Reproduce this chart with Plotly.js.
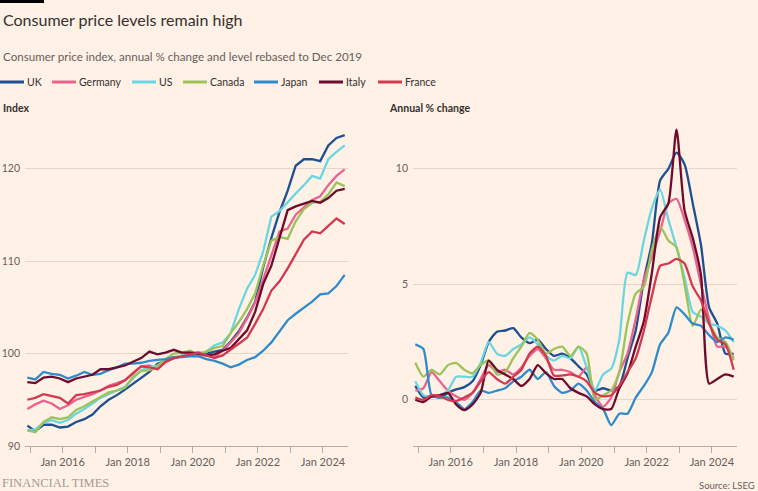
<!DOCTYPE html>
<html>
<head>
<meta charset="utf-8">
<script src="https://cdn.plot.ly/plotly-3.0.1.min.js"></script>
<style>
html,body{margin:0;padding:0;background:#fff1e5;}
#chart{width:758px;height:491px;}
</style>
</head>
<body>
<div id="chart"></div>
<script>
// Quarterly observation dates
const dates = ['2014-12-01','2015-03-01','2015-06-01','2015-09-01','2015-12-01','2016-03-01','2016-06-01','2016-09-01','2016-12-01','2017-03-01',
'2017-06-01','2017-09-01','2017-12-01','2018-03-01','2018-06-01','2018-09-01','2018-12-01','2019-03-01','2019-06-01','2019-09-01',
'2019-12-01','2020-03-01','2020-06-01','2020-09-01','2020-12-01','2021-03-01','2021-06-01','2021-09-01','2021-12-01','2022-03-01',
'2022-06-01','2022-09-01','2022-12-01','2023-03-01','2023-06-01','2023-09-01','2023-12-01','2024-03-01','2024-06-01','2024-09-01'];

const countries = ['UK','Germany','US','Canada','Japan','Italy','France'];
const colors = ['#1d4f91','#e8648f','#6ad6e2','#9bc35a','#2f8bcb','#6e0a2c','#d2384f'];

// Index level, Dec 2019 = 100
const idxUK      = [92.2,91.6,92.3,92.3,92.0,92.1,92.6,92.9,93.4,94.3,95.0,95.5,96.1,96.7,97.4,98.0,98.9,99.2,99.5,99.7,100.0,100.1,100.0,100.2,100.4,101.3,102.4,103.9,105.6,109.3,112.5,115.3,117.6,120.3,121.0,121.0,120.8,122.5,123.3,123.6];
const idxGermany = [94.0,94.5,94.9,94.6,94.0,94.4,95.0,95.3,95.6,96.0,96.5,96.8,97.1,97.9,98.6,98.7,98.3,99.1,99.5,99.7,99.9,99.8,99.8,99.6,100.3,101.2,102.2,103.8,105.5,108.0,110.5,113.2,113.5,115.0,115.8,116.6,117.0,118.2,119.2,119.9];
const idxUS      = [91.7,91.8,92.5,92.8,92.5,92.8,93.5,94.0,94.6,95.2,95.6,96.0,96.4,97.3,98.2,98.5,98.7,99.3,99.6,99.8,100.0,99.9,100.2,100.9,101.2,102.2,104.8,107.0,108.5,111.0,114.8,115.4,116.4,117.3,118.2,119.2,118.9,121.0,121.8,122.5];
const idxCanada  = [91.7,91.5,92.6,93.1,92.9,93.1,93.9,94.3,94.8,95.3,95.8,96.0,96.3,97.5,98.1,98.2,98.6,99.4,100.0,100.1,100.3,99.9,100.2,100.6,100.8,102.2,103.4,104.8,106.5,109.5,112.2,112.6,112.4,114.3,115.6,116.3,116.4,117.2,118.5,118.1];
const idxJapan   = [97.4,97.2,98.0,97.8,97.7,97.3,97.6,98.0,97.7,97.8,98.2,98.5,98.9,98.9,99.0,99.2,99.3,99.4,99.6,99.6,99.7,99.7,99.4,99.2,98.9,98.5,98.8,99.3,99.6,100.3,101.2,102.4,103.6,104.3,104.9,105.6,106.4,106.5,107.3,108.5];
const idxItaly   = [96.9,96.8,97.4,97.5,97.3,96.9,97.3,97.5,97.7,98.3,98.3,98.5,98.7,99.1,99.5,100.2,99.9,100.1,100.4,100.1,100.1,100.0,99.8,99.9,100.3,100.6,101.5,102.5,104.5,107.5,109.5,112.5,115.5,115.9,116.2,116.5,116.3,116.8,117.6,117.8];
const idxFrance  = [95.0,95.2,95.6,95.4,95.2,94.6,95.5,95.6,95.8,96.0,96.4,96.6,97.1,97.8,98.6,98.5,98.3,99.1,99.5,99.7,99.9,100.1,99.8,99.5,99.8,100.4,101.0,101.7,103.2,104.8,106.8,107.8,109.2,110.8,112.3,113.2,113.0,113.8,114.6,114.0];

// Annual % change
const chgUK      = [0.6,0.1,0.15,0.1,0.3,0.45,0.55,0.8,1.5,2.5,2.95,3.0,3.1,2.7,2.45,2.6,2.2,1.9,2.0,1.8,1.45,1.1,0.4,0.5,0.4,0.6,1.8,3.0,5.2,6.8,9.5,10.0,10.7,10.2,8.5,6.7,4.0,3.3,2.0,2.0];
const chgGermany = [0.4,0.5,1.2,0.8,0.4,0.15,0.0,0.3,0.9,1.5,1.2,1.3,1.1,1.4,1.9,2.2,1.8,1.3,1.3,1.2,1.0,1.4,0.2,-0.3,0.1,1.2,2.0,3.5,5.2,6.2,7.3,8.5,8.7,7.8,6.6,5.0,3.5,2.3,2.3,1.8];
const chgUS      = [0.8,0.2,0.15,0.2,0.4,1.0,1.0,1.0,1.6,2.5,2.0,1.9,2.2,2.4,2.7,2.4,1.9,1.7,1.9,1.8,2.3,1.4,0.4,1.1,1.35,2.6,5.5,5.4,6.9,8.3,9.1,7.8,6.6,5.3,3.8,3.6,3.3,3.2,3.0,2.5];
const chgCanada  = [1.6,1.0,1.3,1.1,1.5,1.6,1.3,1.15,1.5,1.7,1.1,1.2,1.8,2.3,2.9,2.6,2.0,2.2,2.3,1.9,2.3,2.0,0.0,0.2,0.4,1.2,3.3,4.6,4.9,6.5,7.5,6.9,6.6,5.0,3.2,3.9,3.3,2.7,2.5,1.7];
const chgJapan   = [2.4,2.2,0.2,0.1,0.1,-0.1,-0.4,-0.1,0.4,0.3,0.4,0.5,0.8,1.0,1.3,0.9,1.2,0.6,0.3,0.4,0.7,0.4,-0.1,-0.4,-1.1,-0.6,-0.6,0.1,0.6,1.2,2.4,2.9,4.0,3.7,3.3,3.2,2.8,2.5,2.7,2.6];
const chgItaly   = [0.0,-0.1,0.15,0.2,0.3,-0.2,-0.45,-0.2,0.3,1.7,1.3,1.1,0.9,0.6,0.9,1.5,1.15,0.9,0.9,0.5,0.3,0.15,-0.2,-0.4,-0.4,0.5,1.15,2.3,3.4,5.5,7.9,8.5,11.7,8.2,7.0,5.4,0.7,0.9,1.1,1.0];
const chgFrance  = [0.1,0.0,0.2,0.15,0.0,-0.05,0.1,0.3,0.8,1.2,0.9,0.7,1.0,1.3,2.0,2.3,1.9,1.05,1.05,1.1,1.0,0.8,0.3,0.15,0.2,0.6,1.2,1.8,3.0,4.5,5.8,5.9,6.1,5.9,4.9,4.3,3.3,2.6,2.4,1.3];

const xTickVals = ['2015-01-01','2016-01-01','2017-01-01','2018-01-01','2019-01-01','2020-01-01','2021-01-01','2022-01-01','2023-01-01','2024-01-01'];
const xTickText = ['','Jan 2016','','Jan 2018','','Jan 2020','','Jan 2022','','Jan 2024'];
const yIdxTicks = [90,100,110,120];
const yChgTicks = [0,5,10];

const titleText = 'Consumer price levels remain high';
const subtitleText = 'Consumer price index, annual % change and level rebased to Dec 2019';
const leftLabel = 'Index';
const rightLabel = 'Annual % change';
const sourceText = 'Source: LSEG';
const brandText = 'FINANCIAL TIMES';

const idxSeries = [idxUK,idxGermany,idxUS,idxCanada,idxJapan,idxItaly,idxFrance];
const chgSeries = [chgUK,chgGermany,chgUS,chgCanada,chgJapan,chgItaly,chgFrance];

const W = 758, H = 491;
const px = x => x / W;
const py = y => 1 - y / H;

const traces = [];
countries.forEach((c, i) => {
  traces.push({x: dates, y: idxSeries[i], type: 'scatter', mode: 'lines', name: c,
    line: {color: colors[i], width: 2.3}, xaxis: 'x', yaxis: 'y', showlegend: false, hoverinfo: 'skip'});
});
countries.forEach((c, i) => {
  traces.push({x: dates, y: chgSeries[i], type: 'scatter', mode: 'lines', name: c,
    line: {color: colors[i], width: 2.3, shape: 'spline', smoothing: 0.6}, xaxis: 'x2', yaxis: 'y2', showlegend: false, hoverinfo: 'skip'});
});

const textCol = '#33302e', mutedCol = '#66605c', gridCol = '#e3d6ca', axisCol = '#b9ada3';
const xRange = ['2014-11-05', '2024-10-08'];

const xCommon = {type: 'date', range: xRange, tickvals: xTickVals, ticktext: xTickText,
  showgrid: false, zeroline: false, showline: true, linecolor: axisCol, linewidth: 1,
  ticks: 'outside', ticklen: 6, tickcolor: axisCol, tickwidth: 1,
  tickfont: {size: 11, color: mutedCol}, fixedrange: true};
const yCommon = {showgrid: true, gridcolor: gridCol, gridwidth: 1, zeroline: false, showline: false,
  ticks: '', tickfont: {size: 10.5, color: mutedCol}, ticklabelstandoff: 4, fixedrange: true};

// Legend built from series names and colours
const legendSwatchX = [0, 52, 132, 183, 254, 319, 378];
const legendSwatchW = 24;
const shapes = [
  {type: 'rect', xref: 'paper', yref: 'paper', x0: 0, x1: px(44), y0: py(3), y1: 1, fillcolor: '#000000', line: {width: 0}}
];
const annotations = [
  {text: titleText, xref: 'paper', yref: 'paper', x: px(1), y: py(20), xanchor: 'left', yanchor: 'middle', showarrow: false, font: {size: 16, color: textCol}},
  {text: subtitleText, xref: 'paper', yref: 'paper', x: px(1), y: py(56), xanchor: 'left', yanchor: 'middle', showarrow: false, font: {size: 11.6, color: mutedCol}},
  {text: '<b>' + leftLabel + '</b>', xref: 'paper', yref: 'paper', x: px(1), y: py(108), xanchor: 'left', yanchor: 'middle', showarrow: false, font: {size: 10.5, color: textCol}},
  {text: '<b>' + rightLabel + '</b>', xref: 'paper', yref: 'paper', x: px(387), y: py(108), xanchor: 'left', yanchor: 'middle', showarrow: false, font: {size: 10.5, color: textCol}},
  {text: sourceText, xref: 'paper', yref: 'paper', x: px(757), y: py(485), xanchor: 'right', yanchor: 'middle', showarrow: false, font: {size: 9.5, color: mutedCol}},
  {text: brandText, xref: 'paper', yref: 'paper', x: px(0), y: py(483), xanchor: 'left', yanchor: 'middle', showarrow: false, font: {size: 12.5, color: '#a39a93', family: 'Liberation Serif, serif'}}
];
countries.forEach((c, i) => {
  const x0 = legendSwatchX[i];
  shapes.push({type: 'line', xref: 'paper', yref: 'paper', x0: px(x0), x1: px(x0 + legendSwatchW), y0: py(82), y1: py(82), line: {color: colors[i], width: 3}});
  annotations.push({text: c, xref: 'paper', yref: 'paper', x: px(x0 + legendSwatchW + 1), y: py(82.5), xanchor: 'left', yanchor: 'middle', showarrow: false, font: {size: 10.5, color: textCol}});
});

const layout = {
  width: W, height: H,
  margin: {l: 0, r: 0, t: 0, b: 0},
  paper_bgcolor: '#fff1e5', plot_bgcolor: '#fff1e5',
  font: {family: 'Lato, "Open Sans", sans-serif', color: textCol},
  showlegend: false,
  xaxis: Object.assign({}, xCommon, {domain: [px(25), px(348)], anchor: 'y'}),
  yaxis: Object.assign({}, yCommon, {domain: [py(446), py(120)], range: [90, 90 + 326 / 9.25], tickvals: yIdxTicks, anchor: 'x'}),
  xaxis2: Object.assign({}, xCommon, {domain: [px(413), px(737)], anchor: 'y2'}),
  yaxis2: Object.assign({}, yCommon, {domain: [py(446), py(120)], range: [-2, -2 + 326 / 23.1], tickvals: yChgTicks, anchor: 'x2'}),
  shapes: shapes,
  annotations: annotations
};

Plotly.newPlot('chart', traces, layout, {staticPlot: true, displayModeBar: false});
</script>
</body>
</html>
